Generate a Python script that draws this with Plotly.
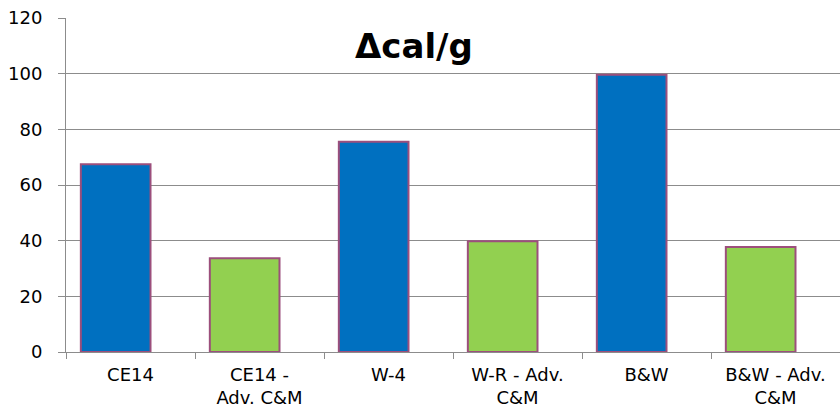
import plotly.graph_objects as go

categories = ["CE14", "CE14 -<br>Adv. C&M", "W-4", "W-R - Adv.<br>C&M", "B&W", "B&W - Adv.<br>C&M"]
values = [67.5, 33.7, 75.5, 39.8, 99.6, 37.7]
bar_colors = ["#0070C0", "#92D050", "#0070C0", "#92D050", "#0070C0", "#92D050"]
y_ticks = [0, 20, 40, 60, 80, 100, 120]

FONT = "DejaVu Sans, Liberation Sans, Arial, sans-serif"

fig = go.Figure(go.Bar(
    x=categories, y=values,
    marker=dict(color=bar_colors, line=dict(color="#9C4F7C", width=2)),
    width=0.54, offset=-0.385,
))

fig.update_layout(
    width=840, height=407,
    margin=dict(l=66, r=0, t=18, b=55),
    plot_bgcolor="white", paper_bgcolor="white",
    font=dict(family=FONT, size=18, color="#000000"),
    showlegend=False,
    annotations=[dict(
        text="<b>Δcal/g</b>", x=0.45, y=0.915, xref="paper", yref="paper",
        xanchor="center", yanchor="middle", showarrow=False,
        font=dict(size=34, color="#000000", family=FONT),
    )],
)
fig.update_yaxes(
    range=[0, 120], tickvals=y_ticks, showgrid=True, gridcolor="#8C8C8C", gridwidth=1,
    showline=True, linecolor="#8C8C8C", linewidth=1,
    ticks="outside", ticklen=7, tickcolor="#8C8C8C", zeroline=False,
    tickfont=dict(size=18), ticklabelstandoff=12,
)
fig.update_xaxes(
    showline=True, linecolor="#8C8C8C", linewidth=1,
    ticks="outside", ticklen=6, tickcolor="#8C8C8C", tickson="boundaries",
    tickfont=dict(size=18), ticklabelstandoff=6,
)

fig.write_html("out.html")
